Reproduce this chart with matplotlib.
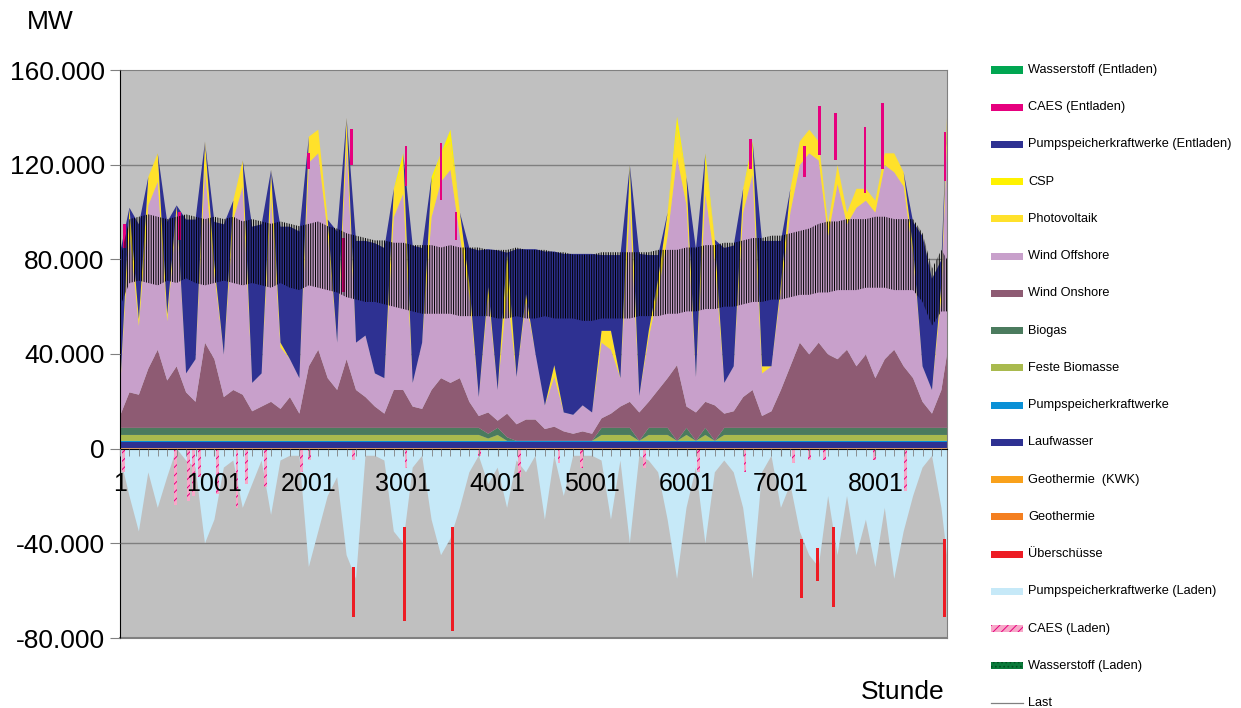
import numpy as np
import matplotlib
matplotlib.use('Agg')
import matplotlib.pyplot as plt
from matplotlib.patches import Rectangle
from matplotlib.lines import Line2D
from matplotlib.ticker import FixedLocator, FuncFormatter

plt.rcParams['font.family'] = ['Liberation Sans', 'DejaVu Sans']
plt.rcParams['hatch.linewidth'] = 0.7

# Stunden (Stützstellen alle 100 h)
stunden = list(range(1, 8760, 100)) + [8760]

# Erzeugung in MW
geothermie = [100] * 89
geothermie_kwk = [100] * 89
laufwasser = [2700] * 89
pumpspeicher = [400] * 89
feste_biomasse = ([2500] * 39 + [1000, 2500, 0] + [0] * 9 + [2500, 2500, 2500, 2500, 0, 2500, 2500, 2500, 0,
                  2500, 0, 2500, 0] + [2500] * 25)
biogas = ([3000] * 39 + [2000, 3000, 1500] + [0] * 9 + [3000, 3000, 3000, 3000, 0, 3000, 3000, 3000, 0,
          3000, 0, 3000, 0] + [3000] * 25)
wind_onshore = [5000, 15000, 14000, 25000, 33000, 20000, 26000, 15000, 11000, 36000,
                29000, 13000, 16000, 14000, 7000, 9000, 11000, 8000, 13000, 6000,
                26000, 33000, 21000, 16000, 29000, 16000, 13000, 9000, 6000, 16000,
                16000, 9000, 8000, 16000, 21000, 19000, 21000, 11000, 5000, 9000,
                3000, 10000, 7000, 9000, 9000, 5000, 6000, 4000, 3000, 4000,
                3000, 4000, 6000, 9000, 11000, 12000, 11000, 16000, 21000, 32000,
                9000, 12000, 11000, 15000, 6000, 7000, 13000, 16000, 5000, 7000,
                16000, 26000, 36000, 31000, 36000, 31000, 29000, 33000, 26000, 31000,
                21000, 29000, 33000, 26000, 21000, 11000, 6000, 16000, 31000]
wind_offshore = [11000, 68000, 29000, 69000, 71000, 25000, 65000, 8000, 18000, 73000,
                 36000, 18000, 72000, 88000, 12000, 14000, 87000, 26000, 16000, 15000,
                 86000, 83000, 61000, 20000, 90000, 20000, 26000, 14000, 15000, 73000,
                 83000, 10000, 28000, 73000, 83000, 90000, 60000, 45000, 8000, 49000,
                 13000, 52000, 20000, 50000, 28000, 10000, 21000, 8000, 8000, 11000,
                 9000, 32000, 27000, 12000, 83000, 7000, 27000, 41000, 60000, 88000,
                 85000, 15000, 88000, 61000, 13000, 19000, 78000, 91000, 18000, 19000,
                 42000, 65000, 75000, 85000, 77000, 50000, 74000, 53000, 67000, 65000,
                 70000, 82000, 75000, 76000, 52000, 15000, 10000, 40000, 92000]
photovoltaik = [0, 10000, 3000, 12000, 12000, 3000, 3000, 0, 0, 12000,
                4000, 0, 8000, 11000, 0, 0, 11000, 2000, 0, 0,
                11000, 10000, 6000, 0, 12000, 0, 0, 0, 0, 12000,
                12000, 0, 0, 13000, 12000, 12000, 10000, 5000, 0, 4000,
                0, 12000, 0, 3000, 0, 0, 5000, 0, 0, 0,
                0, 5000, 8000, 0, 12000, 0, 3000, 6000, 10000, 12000,
                12000, 0, 13000, 9000, 0, 0, 10000, 10000, 3000, 0,
                3000, 10000, 10000, 10000, 8000, 5000, 8000, 5000, 8000, 5000,
                5000, 5000, 8000, 6000, 3000, 0, 0, 5000, 8000]
csp = [0] * 30 + [5000, 0, 0, 4000, 0, 5000, 0, 0, 0, 0, 0, 4000] + [0] * 12 + [5000, 0, 0, 0, 0, 5000,
      0, 0, 4000, 0, 0, 0, 0, 4000] + [0] * 21
pump_entladen = [58000, 0, 40000, 0, 0, 39000, 0, 65000, 59000, 0,
                 18000, 55000, 0, 0, 66000, 63000, 0, 49000, 56000, 62000,
                 0, 0, 0, 47000, 0, 43000, 40000, 55000, 55000, 0,
                 0, 58000, 40000, 0, 0, 0, 0, 15000, 62000, 16000,
                 59000, 0, 54000, 19000, 44000, 65000, 48000, 67000, 68000, 64000,
                 67000, 32000, 32000, 52000, 0, 60000, 32000, 10000, 0, 0,
                 0, 54000, 0, 0, 57000, 51000, 0, 0, 53000, 53000,
                 18000, 0, 0, 0, 0, 0, 0, 0, 0, 0,
                 0, 0, 0, 0, 11000, 55000, 47000, 10000, 0]
wasserstoff_entladen = [0] * 89

# CAES (Entladen): kurze Einsätze, Stunde mit Unter- und Oberkante in MW
caes_ent_stunde = [50, 630, 2000, 2370, 2450, 3030, 3400, 3560, 6680, 7250, 7410, 7580, 7890, 8080, 8740]
caes_ent_von = [85000, 88000, 118000, 66000, 120000, 111000, 105000, 88000, 118000, 115000, 124000, 122000,
                108000, 118000, 113000]
caes_ent_bis = [95000, 100000, 125000, 89000, 135000, 128000, 129000, 100000, 131000, 128000, 145000, 142000,
                136000, 146000, 134000]

# Pumpspeicher (Laden) in MW (negativ)
pump_laden = [-3000, -20000, -35000, -10000, -25000, -12000, 0, -5000, -8000, -40000,
              -30000, -8000, -5000, -25000, -15000, -5000, -28000, -5000, -3000, -3000,
              -50000, -35000, -20000, -12000, -45000, -55000, -3000, -3000, -5000, -35000,
              -40000, -8000, -3000, -30000, -45000, -38000, -25000, -10000, -3000, -15000,
              -8000, -25000, -5000, -10000, -3000, -30000, -3000, -20000, -3000, -3000,
              -3000, -5000, -30000, -5000, -40000, -3000, -5000, -10000, -30000, -55000,
              -25000, -8000, -40000, -10000, -5000, -10000, -25000, -55000, -10000, -3000,
              -25000, -15000, -35000, -45000, -50000, -20000, -45000, -20000, -45000, -30000,
              -50000, -25000, -55000, -35000, -20000, -8000, -3000, -25000, -45000]
wasserstoff_laden = [0] * 89

# CAES (Laden): kurze Einsätze
caes_laden_stunde = [40, 585, 730, 780, 845, 1030, 1240, 1340, 1545, 1920, 2010, 2470, 3030, 3810, 4230,
                     4650, 4890, 5560, 6130, 6620, 7130, 7300, 7460, 7990, 8320]
caes_laden_wert = [-10000, -24000, -22000, -20000, -12000, -19000, -25000, -15000, -16000, -10000, -5000,
                   -5000, -8000, -3000, -12000, -6000, -8000, -8000, -10000, -10000, -6000, -5000, -5000,
                   -5000, -18000]

# Überschüsse: Stunde mit Ober- und Unterkante in MW
ueb_stunde = [2478, 3015, 3521, 7219, 7388, 7554, 8735]
ueb_oben = [-50000, -33000, -33000, -38000, -42000, -33000, -38000]
ueb_unten = [-71000, -73000, -77000, -63000, -56000, -67000, -71000]

# Last (obere / untere Hüllkurve des Tagesgangs) in MW
last_hoch = [80000, 97000, 98000, 99000, 98000, 97000, 98000, 99000, 98000, 97000,
             98000, 97000, 98000, 96000, 97000, 96000, 95000, 96000, 95000, 94000,
             95000, 96000, 94000, 93000, 91000, 90000, 89000, 88000, 88000, 87000,
             87000, 86000, 86000, 86000, 85000, 86000, 85000, 85000, 85000, 84000,
             84000, 84000, 85000, 84000, 84000, 84000, 83000, 83000, 82000, 82000,
             82000, 83000, 83000, 83000, 83000, 83000, 83000, 84000, 84000, 84000,
             85000, 85000, 86000, 86000, 87000, 87000, 88000, 89000, 89000, 90000,
             90000, 91000, 92000, 93000, 95000, 96000, 96000, 97000, 97000, 97000,
             98000, 98000, 97000, 97000, 97000, 91000, 76000, 84000, 80000]
last_tief = [60000, 70000, 71000, 70000, 69000, 71000, 70000, 72000, 70000, 69000,
             70000, 71000, 70000, 69000, 70000, 69000, 68000, 70000, 68000, 67000,
             69000, 68000, 67000, 66000, 64000, 63000, 62000, 62000, 61000, 60000,
             59000, 58000, 57000, 57000, 57000, 57000, 56000, 56000, 56000, 56000,
             55000, 55000, 56000, 55000, 55000, 56000, 55000, 55000, 55000, 54000,
             54000, 55000, 55000, 55000, 55000, 56000, 56000, 56000, 57000, 57000,
             58000, 58000, 59000, 59000, 60000, 60000, 61000, 62000, 62000, 63000,
             63000, 64000, 65000, 65000, 66000, 66000, 67000, 67000, 67000, 68000,
             68000, 68000, 67000, 67000, 67000, 62000, 52000, 58000, 58000]

x_ticks = [1, 1001, 2001, 3001, 4001, 5001, 6001, 7001, 8001]
y_ticks = [-80000, -40000, 0, 40000, 80000, 120000, 160000]

x = np.array(stunden)

fig = plt.figure(figsize=(12.41, 7.08), dpi=100)
ax = fig.add_axes([120 / 1241, 70 / 708, 827 / 1241, 568 / 708])
ax.set_facecolor('#C0C0C0')

positiv = [
    (geothermie, '#F47F20'),
    (geothermie_kwk, '#F9A11B'),
    (laufwasser, '#2E3192'),
    (pumpspeicher, '#0A90D6'),
    (feste_biomasse, '#A9BA4E'),
    (biogas, '#4B7B5E'),
    (wind_onshore, '#8E5B73'),
    (wind_offshore, '#C8A0CB'),
    (photovoltaik, '#FFE12B'),
    (csp, '#FFF200'),
    (pump_entladen, '#2E3192'),
    (wasserstoff_entladen, '#00A651'),
]
unten = np.zeros(len(x))
for werte, farbe in positiv:
    oben = unten + np.array(werte)
    ax.fill_between(x, unten, oben, facecolor=farbe, linewidth=0, zorder=2)
    unten = oben

ax.bar(caes_ent_stunde, np.array(caes_ent_bis) - np.array(caes_ent_von), bottom=caes_ent_von, width=28,
       color='#E6007E', linewidth=0, zorder=2.2)

unten = np.zeros(len(x))
for werte, farbe in [(pump_laden, '#C6E9F8'), (wasserstoff_laden, '#0A7A3A')]:
    neu = unten + np.array(werte)
    ax.fill_between(x, neu, unten, facecolor=farbe, linewidth=0, zorder=2)
    unten = neu

ax.bar(caes_laden_stunde, caes_laden_wert, width=30, color='#F7A8C8', edgecolor='#E6007E', hatch='////',
       linewidth=0, zorder=2.2)
ax.bar(ueb_stunde, np.array(ueb_unten) - np.array(ueb_oben), bottom=ueb_oben, width=30, color='#ED1C24',
       linewidth=0, zorder=2.2)

# Last als dichter Tagesgang zwischen den Hüllkurven
ax.fill_between(x, last_tief, last_hoch, facecolor='none', edgecolor='black', hatch='|||||||',
                linewidth=0, zorder=3)

ax.set_xlim(1, 8760)
ax.set_ylim(-80000, 160000)

for y in y_ticks[1:-1]:
    ax.axhline(y, color='#7F7F7F', lw=1, zorder=1)

ax.spines['left'].set_color('black')
ax.spines['left'].set_zorder(4)
for s in ['top', 'right']:
    ax.spines[s].set_color('#808080')
ax.spines['bottom'].set_position(('data', 0))
ax.spines['bottom'].set_color('black')
ax.spines['bottom'].set_zorder(4)
ax.axhline(-80000, color='#808080', lw=1.5, clip_on=False)
ax.xaxis.set_zorder(5)
ax.yaxis.set_zorder(5)

ax.xaxis.set_major_locator(FixedLocator(x_ticks))
ax.xaxis.set_minor_locator(FixedLocator(stunden[:-1]))
ax.set_xticklabels([str(t) for t in x_ticks])
ax.tick_params(axis='x', which='both', direction='out', length=5, color='#808080', labelsize=18, pad=12)
ax.set_yticks(y_ticks)
ax.yaxis.set_major_formatter(FuncFormatter(lambda v, p: f"{int(v):,}".replace(',', '.')))
ax.tick_params(axis='y', direction='out', length=7, color='#808080', labelsize=19, pad=4)

fig.text(50 / 1241, 1 - 22 / 708, 'MW', fontsize=19, ha='center', va='center')
fig.text(903 / 1241, 1 - 692 / 708, 'Stunde', fontsize=19, ha='center', va='center')

legende = [
    ('Wasserstoff (Entladen)', '#00A651', None, None),
    ('CAES (Entladen)', '#E6007E', None, None),
    ('Pumpspeicherkraftwerke (Entladen)', '#2E3192', None, None),
    ('CSP', '#FFF200', None, None),
    ('Photovoltaik', '#FFE12B', None, None),
    ('Wind Offshore', '#C8A0CB', None, None),
    ('Wind Onshore', '#8E5B73', None, None),
    ('Biogas', '#4B7B5E', None, None),
    ('Feste Biomasse', '#A9BA4E', None, None),
    ('Pumpspeicherkraftwerke', '#0A90D6', None, None),
    ('Laufwasser', '#2E3192', None, None),
    ('Geothermie  (KWK)', '#F9A11B', None, None),
    ('Geothermie', '#F47F20', None, None),
    ('Überschüsse', '#ED1C24', None, None),
    ('Pumpspeicherkraftwerke (Laden)', '#C6E9F8', None, None),
    ('CAES (Laden)', '#F7A8C8', '////', '#E6007E'),
    ('Wasserstoff (Laden)', '#0A7A3A', '....', '#004D20'),
    ('Last', None, None, None),
]
for i, (text, farbe, muster, kante) in enumerate(legende):
    yc = 1 - (70 + i * 37.24) / 708
    if farbe is None:
        fig.add_artist(Line2D([991 / 1241, 1023 / 1241], [yc, yc], color='#808080', lw=0.9,
                              transform=fig.transFigure))
    else:
        fig.add_artist(Rectangle((991 / 1241, yc - 3.5 / 708), 32 / 1241, 7 / 708, transform=fig.transFigure,
                                 facecolor=farbe, edgecolor=kante if kante else 'none', hatch=muster,
                                 linewidth=0))
    fig.text(1028 / 1241, yc, text, fontsize=9.2, ha='left', va='center')

fig.savefig('out.png', dpi=100)
